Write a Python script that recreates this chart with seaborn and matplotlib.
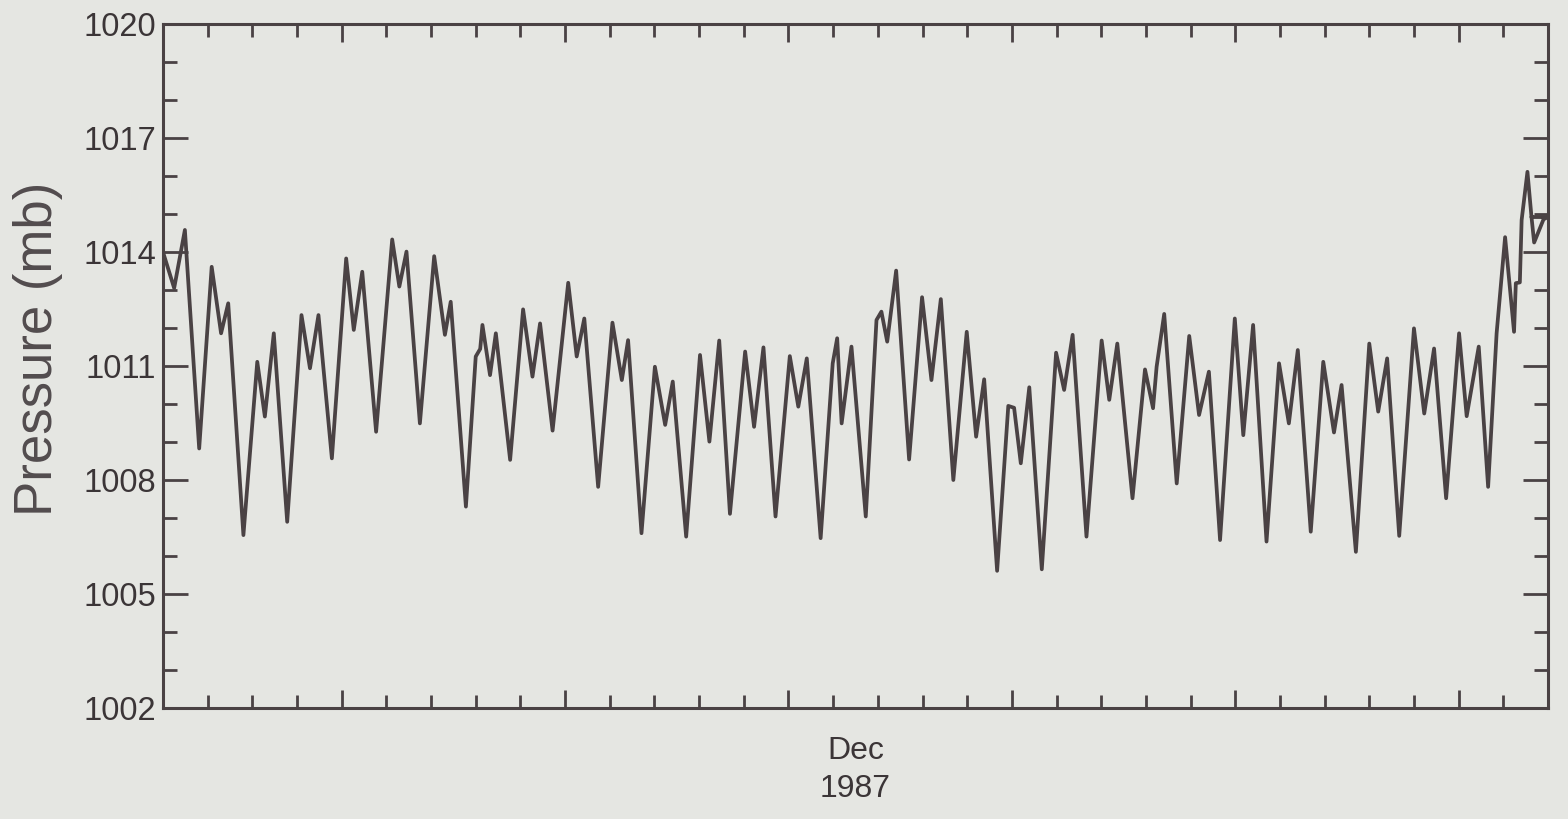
import pandas as pd
import matplotlib
matplotlib.use("Agg")
import matplotlib.pyplot as plt
import seaborn as sns


# hourly-ish pressure trace (day 0 = Dec 1 00:00)
day = [
    0.00, 0.25, 0.49, 0.81, 1.09, 1.30, 1.46, 1.80, 2.11, 2.28,
    2.48, 2.78, 3.10, 3.29, 3.48, 3.78, 4.10, 4.27, 4.46, 4.77,
    5.13, 5.29, 5.45, 5.75, 6.07, 6.31, 6.44, 6.78, 7.00, 7.10,
    7.15, 7.32, 7.45, 7.77, 8.06, 8.27, 8.44, 8.72, 9.07, 9.26,
    9.43, 9.74, 10.06, 10.27, 10.41, 10.71, 11.01, 11.24, 11.41, 11.71,
    12.02, 12.23, 12.45, 12.69, 13.03, 13.23, 13.44, 13.71, 14.03, 14.22,
    14.41, 14.72, 14.99, 15.09, 15.19, 15.41, 15.73, 15.97, 16.08, 16.21,
    16.41, 16.70, 16.99, 17.20, 17.41, 17.69, 17.99, 18.20, 18.38, 18.67,
    18.92, 19.05, 19.20, 19.39, 19.67, 19.99, 20.17, 20.36, 20.67, 21.01,
    21.18, 21.36, 21.70, 21.98, 22.16, 22.24, 22.41, 22.69, 22.97, 23.19,
    23.41, 23.66, 23.99, 24.18, 24.40, 24.70, 24.98, 25.20, 25.40, 25.69,
    25.97, 26.21, 26.38, 26.70, 27.00, 27.20, 27.40, 27.67, 28.00, 28.23,
    28.45, 28.72, 29.01, 29.18, 29.45, 29.66, 29.85, 30.04, 30.24, 30.28,
    30.37, 30.41, 30.54, 30.63, 30.69, 30.90, 31.00, 30.63,
]

pressure = [
    1014.00, 1013.05, 1014.58, 1008.83, 1013.61, 1011.86, 1012.65, 1006.55, 1011.11, 1009.67,
    1011.86, 1006.90, 1012.34, 1010.94, 1012.34, 1008.57, 1013.83, 1011.95, 1013.48, 1009.27,
    1014.33, 1013.09, 1014.01, 1009.49, 1013.89, 1011.82, 1012.69, 1007.30, 1011.25, 1011.45,
    1012.08, 1010.76, 1011.86, 1008.53, 1012.49, 1010.72, 1012.12, 1009.30, 1013.19, 1011.25,
    1012.25, 1007.82, 1012.14, 1010.63, 1011.68, 1006.60, 1010.98, 1009.45, 1010.59, 1006.51,
    1011.29, 1009.01, 1011.67, 1007.11, 1011.38, 1009.40, 1011.49, 1007.04, 1011.26, 1009.93,
    1011.20, 1006.47, 1011.07, 1011.73, 1009.49, 1011.51, 1007.04, 1012.21, 1012.43, 1011.64,
    1013.51, 1008.54, 1012.81, 1010.63, 1012.76, 1008.00, 1011.90, 1009.14, 1010.65, 1005.61,
    1009.95, 1009.90, 1008.44, 1010.44, 1005.65, 1011.35, 1010.37, 1011.82, 1006.51, 1011.67,
    1010.11, 1011.59, 1007.52, 1010.91, 1009.89, 1010.98, 1012.37, 1007.91, 1011.79, 1009.71,
    1010.85, 1006.42, 1012.25, 1009.18, 1012.08, 1006.38, 1011.07, 1009.49, 1011.42, 1006.64,
    1011.11, 1009.25, 1010.50, 1006.11, 1011.59, 1009.80, 1011.20, 1006.53, 1011.99, 1009.75,
    1011.46, 1007.52, 1011.86, 1009.68, 1011.51, 1007.82, 1011.86, 1014.39, 1011.90, 1013.18,
    1013.20, 1014.84, 1016.11, 1014.93, 1014.25, 1014.86, 1014.92, 1014.92,
]

y_major = [1002, 1005, 1008, 1011, 1014, 1017, 1020]
y_minor = [v for v in range(1002, 1021) if v not in y_major]
x_major = [4, 9, 14, 19, 24, 29]
x_minor = [d for d in range(1, 31) if d not in x_major]

bg = "#e5e6e2"
ink = "#4a4244"

df = pd.DataFrame({"day": day, "pressure": pressure})

sns.set_theme(style="ticks")
plt.rcParams["font.family"] = ["Liberation Sans", "DejaVu Sans"]

fig = plt.figure(figsize=(15.68, 8.19), dpi=100)
fig.patch.set_facecolor(bg)
ax = fig.add_axes([0.10395, 0.13553, 0.88329, 0.83516])
ax.set_facecolor(bg)

sns.lineplot(
    data=df,
    x="day",
    y="pressure",
    sort=False,
    estimator=None,
    color=ink,
    linewidth=2.7,
    solid_joinstyle="round",
    solid_capstyle="round",
    ax=ax
)

ax.set_xlim(0, 31)
ax.set_ylim(1002, 1020)

for side in ["left", "right", "top", "bottom"]:
    ax.spines[side].set_visible(True)
    ax.spines[side].set_color(ink)
    ax.spines[side].set_linewidth(2.2)

ax.set_xticks(x_major)
ax.set_xticks(x_minor, minor=True)
ax.set_xticklabels([])
ax.tick_params(axis="x", which="both", direction="in", top=True, bottom=True,
               labelbottom=False, color=ink, width=2)
ax.tick_params(axis="x", which="major", length=13)
ax.tick_params(axis="x", which="minor", length=9.5)

ax.set_yticks(y_major)
ax.set_yticks(y_minor, minor=True)
ax.set_yticklabels([str(v) for v in y_major])
ax.tick_params(axis="y", which="both", direction="in", left=True, right=True,
               color=ink, width=2, labelsize=23.5, labelcolor="#3b3537", pad=5)
ax.tick_params(axis="y", which="major", length=18)
ax.tick_params(axis="y", which="minor", length=10)

ax.set_xlabel("Dec\n1987", fontsize=23, color="#3b3537", linespacing=1.35, labelpad=20)
ax.set_ylabel("Pressure (mb)", fontsize=38, color="#524c4e")
ax.yaxis.set_label_coords(-0.072, 0.525)

fig.savefig("out.png", dpi=100, facecolor=bg)
